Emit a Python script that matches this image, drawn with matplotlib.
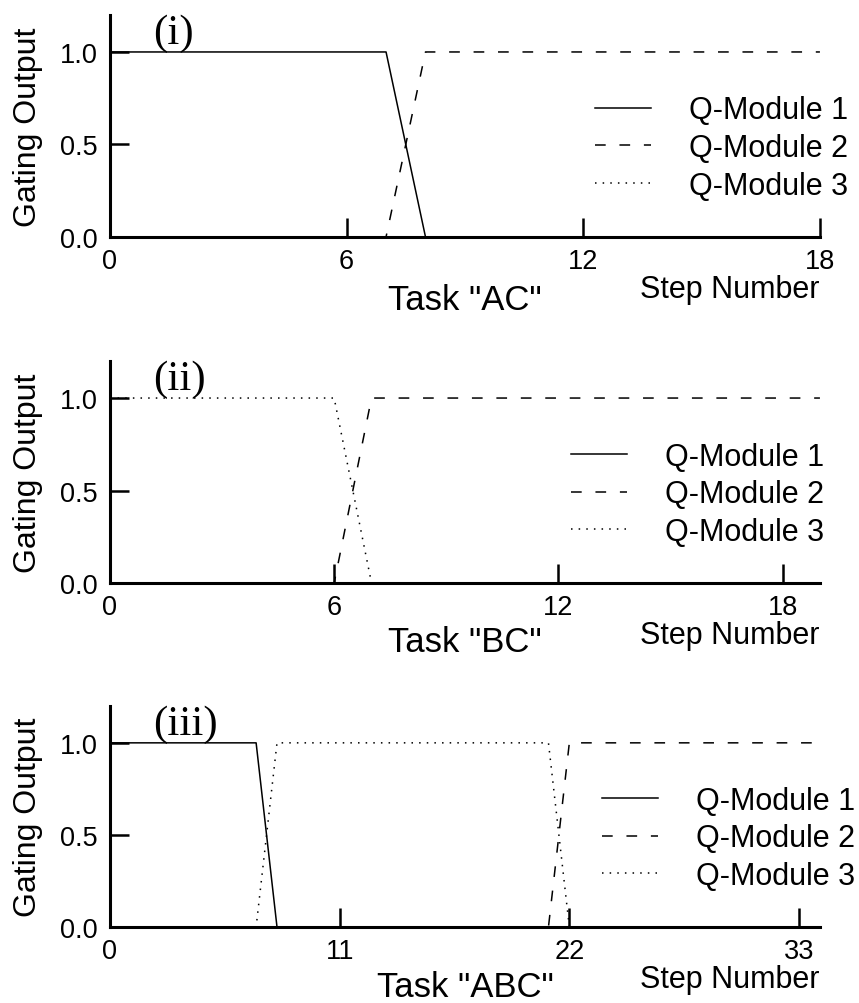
import numpy as np
import matplotlib
matplotlib.use('Agg')
import matplotlib.pyplot as plt

plt.rcParams['font.family'] = ['Liberation Sans', 'DejaVu Sans']

# task "AC": steps 0..18
steps_ac = list(range(19))
ac_m1 = [1, 1, 1, 1, 1, 1, 1, 1, 0, 0, 0, 0, 0, 0, 0, 0, 0, 0, 0]
ac_m2 = [0, 0, 0, 0, 0, 0, 0, 0, 1, 1, 1, 1, 1, 1, 1, 1, 1, 1, 1]
ac_m3 = [0] * 19

# task "BC": steps 0..19
steps_bc = list(range(20))
bc_m1 = [0] * 20
bc_m2 = [0, 0, 0, 0, 0, 0, 0, 1, 1, 1, 1, 1, 1, 1, 1, 1, 1, 1, 1, 1]
bc_m3 = [1, 1, 1, 1, 1, 1, 1, 0, 0, 0, 0, 0, 0, 0, 0, 0, 0, 0, 0, 0]

# task "ABC": steps 0..34
steps_abc = list(range(35))
abc_m1 = [1] * 8 + [0] * 27
abc_m2 = [0] * 22 + [1] * 13
abc_m3 = [0] * 8 + [1] * 14 + [0] * 13

labels = ['Q-Module 1', 'Q-Module 2', 'Q-Module 3']

panels = [
    dict(x=steps_ac, ys=[ac_m1, ac_m2, ac_m3], xlim=18, xticks=[0, 6, 12, 18],
         tag='(i)', task='Task "AC"', task_y=-0.324, leg=(0.683, 0.401),
         rect=[0.128, 0.763, 0.8265, 0.2211]),
    dict(x=steps_bc, ys=[bc_m1, bc_m2, bc_m3], xlim=19, xticks=[0, 6, 12, 18],
         tag='(ii)', task='Task "BC"', task_y=-0.306, leg=(0.649, 0.399),
         rect=[0.128, 0.4183, 0.8265, 0.2211]),
    dict(x=steps_abc, ys=[abc_m1, abc_m2, abc_m3], xlim=34, xticks=[0, 11, 22, 33],
         tag='(iii)', task='Task "ABC"', task_y=-0.312, leg=(0.693, 0.401),
         rect=[0.128, 0.0757, 0.8265, 0.2201]),
]

styles = [dict(linestyle='-'),
          dict(linestyle=(0, (7, 9))),
          dict(linestyle=(0, (1, 4)))]

fig = plt.figure(figsize=(8.59, 10.04), dpi=100)

for p in panels:
    ax = fig.add_axes(p['rect'])
    for y, st, lab in zip(p['ys'], styles, labels):
        ax.plot(p['x'], y, color='black', lw=1.1, label=lab, **st)
    ax.set_xlim(0, p['xlim'])
    ax.set_ylim(0, 1.2)
    ax.set_xticks(p['xticks'])
    ax.set_yticks([0.0, 0.5, 1.0])
    ax.set_yticklabels(['0.0', '0.5', '1.0'])
    for s in ['top', 'right']:
        ax.spines[s].set_visible(False)
    for s in ['left', 'bottom']:
        ax.spines[s].set_linewidth(2.2)
    ax.tick_params(direction='in', length=13.5, width=1.8, labelsize=19.5)
    ax.tick_params(axis='x', pad=8)
    ax.tick_params(axis='y', pad=9)

    ax.text(-0.115, 0.5, 'Gating Output', rotation=90, ha='center', va='center',
            fontsize=23, transform=ax.transAxes)
    ax.text(0.5, p['task_y'], p['task'], ha='center', va='baseline',
            fontsize=25, transform=ax.transAxes)
    ax.text(1.0, -0.272, 'Step Number', ha='right', va='baseline',
            fontsize=22, transform=ax.transAxes)
    ax.text(0.0606, 0.875, p['tag'], ha='left', va='baseline', fontsize=31,
            family='Liberation Serif', transform=ax.transAxes)

    ax.legend(loc='center left', bbox_to_anchor=p['leg'], frameon=False,
              fontsize=22, handlelength=1.84, handletextpad=1.25,
              labelspacing=0.25, borderpad=0, borderaxespad=0)

fig.savefig('out.png', dpi=100)
